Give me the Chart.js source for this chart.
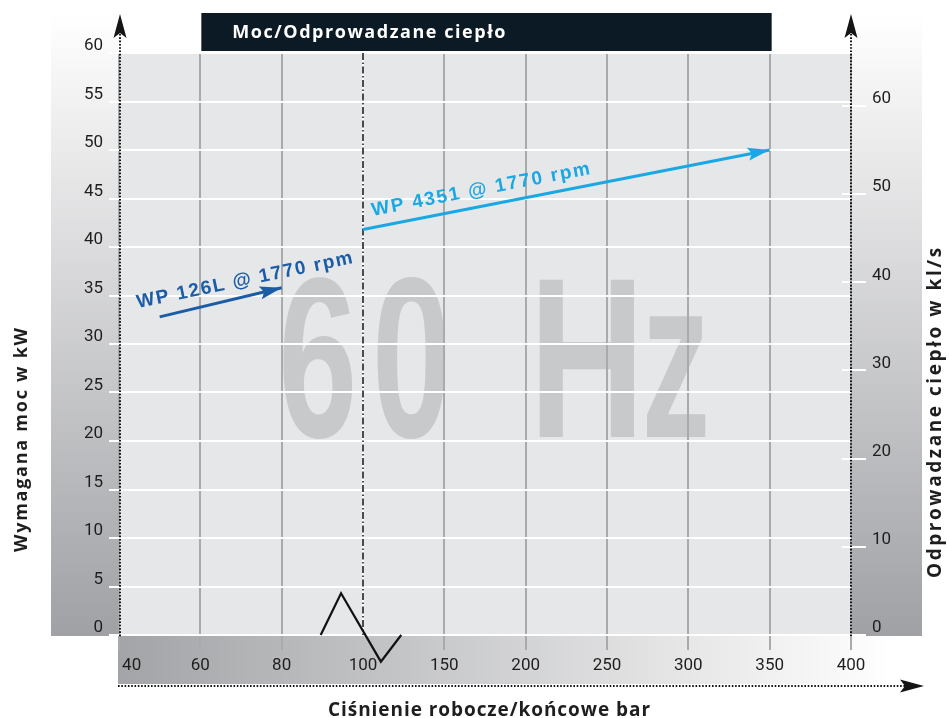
<!DOCTYPE html>
<html>
<head>
<meta charset="utf-8">
<script src="https://cdn.jsdelivr.net/npm/chart.js@4.4.1/dist/chart.umd.min.js"></script>
<style>
html,body{margin:0;padding:0;background:#ffffff;}
#wrap{width:949px;height:718px;position:relative;}
</style>
</head>
<body>
<div id="wrap"><canvas id="c" width="949" height="718"></canvas></div>
<script>
// ---------- DATA ----------
const pressureTicks = [40, 60, 80, 100, 150, 200, 250, 300, 350, 400];   // bar (broken axis)
const breakPressure = 100;
const seriesNames = ['WP 126L @ 1770 rpm', 'WP 4351 @ 1770 rpm'];
const wp126L_pressure = [50, 80];
const wp126L_power = [32.8, 35.8];
const wp4351_pressure = [100, 350];
const wp4351_power = [41.8, 50.0];
const chartTitle = 'Moc/Odprowadzane ciepło';
const xTitle = 'Ciśnienie robocze/końcowe bar';
const yTitle = 'Wymagana moc w kW';
const y2Title = 'Odprowadzane ciepło w kl/s';
const watermarkText = '60 Hz';

// ---------- HELPERS ----------
function toPos(p) { // pressure -> evenly spaced tick position
  for (let i = 0; i < pressureTicks.length - 1; i++) {
    const a = pressureTicks[i], b = pressureTicks[i + 1];
    if (p >= a && p <= b) return i + (p - a) / (b - a);
  }
  return p < pressureTicks[0] ? 0 : pressureTicks.length - 1;
}
const breakIdx = pressureTicks.indexOf(breakPressure);

const TICK_FONT = {family: 'Roboto, "Liberation Sans", sans-serif', size: 17};
const TITLE_FAMILY = '"Open Sans", "Noto Sans", sans-serif';
const LABEL_FAMILY = '"Liberation Sans Narrow", "Liberation Sans", Arial, sans-serif';
const WM_FAMILY = '"Liberation Sans", Arial, sans-serif';
const colors = ['#1a5ca6', '#19a8e4'];

// annotation anchors (pressure, power, angle deg, target length px)
const labelAnchors = [
  {p: 44.7, v: 33.7, angle: -11.8, len: 220},
  {p: 106, v: 43.2, angle: -10.9, len: 222}
];

function spacedText(ctx, text, x, y, targetWidth) {
  ctx.letterSpacing = '0px';
  const w0 = ctx.measureText(text).width;
  const sp = (targetWidth - w0) / (text.length - 1);
  ctx.letterSpacing = sp.toFixed(2) + 'px';
  ctx.fillText(text, x, y);
  ctx.letterSpacing = '0px';
}

// ---------- PLUGINS ----------
const bgPlugin = {
  id: 'bg',
  beforeDraw(chart) {
    const {ctx, chartArea: a, scales} = chart;
    const x = scales.x, y = scales.y;
    ctx.save();
    const colTop = 13;
    let g = ctx.createLinearGradient(0, colTop, 0, a.bottom + 1);
    g.addColorStop(0, '#ffffff');
    g.addColorStop(1, '#a0a1a5');
    ctx.fillStyle = g;
    ctx.fillRect(51, colTop, a.left - 51, a.bottom + 1 - colTop);
    ctx.fillRect(a.right, colTop, 922 - a.right, a.bottom + 1 - colTop);
    g = ctx.createLinearGradient(a.left, 0, 895, 0);
    g.addColorStop(0, '#a3a4a7');
    g.addColorStop(1, '#ffffff');
    ctx.fillStyle = g;
    ctx.fillRect(a.left - 1, a.bottom + 1, chart.width - a.left + 1, 48);
    ctx.fillStyle = '#e6e7e9';
    ctx.fillRect(a.left, a.top, a.right - a.left, a.bottom - a.top);

    // watermark "60 Hz"
    const chars = watermarkText.replace(' ', '').split('');
    const charPos = [2.02, 3.18, 5.17, 6.49];
    const charScale = [0.62, 0.62, 0.7, 0.6];
    const base = y.getPixelForValue(20.4), capTop = y.getPixelForValue(37.3);
    const size = (base - capTop) / 0.716;
    ctx.font = 'bold ' + size.toFixed(1) + 'px ' + WM_FAMILY;
    ctx.fillStyle = '#c8c9cb';
    ctx.textBaseline = 'alphabetic';
    ctx.textAlign = 'left';
    chars.forEach((ch, i) => {
      const m = ctx.measureText(ch);
      ctx.save();
      ctx.translate(x.getPixelForValue(charPos[i]), base);
      ctx.scale(charScale[i], 1);
      ctx.fillText(ch, m.actualBoundingBoxLeft, 0);
      ctx.restore();
    });
    ctx.restore();
  }
};

function axisArrow(ctx, tipX, tipY, dir) {
  ctx.beginPath();
  if (dir === 'up') {
    ctx.moveTo(tipX, tipY);
    ctx.lineTo(tipX + 6.5, tipY + 24);
    ctx.lineTo(tipX, tipY + 19);
    ctx.lineTo(tipX - 6.5, tipY + 24);
  } else {
    ctx.moveTo(tipX, tipY);
    ctx.lineTo(tipX - 24, tipY - 6.5);
    ctx.lineTo(tipX - 19, tipY);
    ctx.lineTo(tipX - 24, tipY + 6.5);
  }
  ctx.closePath();
  ctx.fill();
}

const overlayPlugin = {
  id: 'overlay',
  beforeDatasetsDraw(chart) {
    const {ctx, chartArea: a, scales: {x}} = chart;
    const px = x.getPixelForValue(breakIdx);
    ctx.save();
    ctx.lineWidth = 2;
    ctx.strokeStyle = '#ffffff';
    ctx.beginPath(); ctx.moveTo(px, a.top); ctx.lineTo(px, a.bottom); ctx.stroke();
    ctx.strokeStyle = '#4a4b4e';
    ctx.setLineDash([7, 2.5, 1.5, 2.5]);
    ctx.beginPath(); ctx.moveTo(px, a.top); ctx.lineTo(px, a.bottom); ctx.stroke();
    ctx.restore();
  },
  afterDatasetsDraw(chart) {
    const {ctx, scales: {x, y}} = chart;
    ctx.save();
    chart.data.datasets.forEach((ds, di) => {
      const pts = chart.getDatasetMeta(di).data;
      const p0 = pts[pts.length - 2], p1 = pts[pts.length - 1];
      const ang = Math.atan2(p1.y - p0.y, p1.x - p0.x);
      ctx.save();
      ctx.translate(p1.x, p1.y);
      ctx.rotate(ang);
      ctx.fillStyle = ds.borderColor;
      ctx.beginPath();
      ctx.moveTo(0, 0);
      ctx.lineTo(-22, -6.5);
      ctx.lineTo(-18, 0);
      ctx.lineTo(-22, 6.5);
      ctx.closePath();
      ctx.fill();
      ctx.restore();
      // label
      const an = labelAnchors[di];
      ctx.save();
      ctx.translate(x.getPixelForValue(toPos(an.p)), y.getPixelForValue(an.v));
      ctx.rotate(an.angle * Math.PI / 180);
      ctx.font = 'bold 19px ' + LABEL_FAMILY;
      ctx.fillStyle = ds.borderColor;
      ctx.textBaseline = 'alphabetic';
      ctx.textAlign = 'left';
      spacedText(ctx, ds.label, 0, 0, an.len);
      ctx.restore();
    });
    ctx.restore();
  },
  afterDraw(chart) {
    const {ctx, chartArea: a, scales: {x, y, y2}} = chart;
    ctx.save();
    // inner part of right-axis ticks
    ctx.strokeStyle = '#ffffff';
    ctx.lineWidth = 2;
    y2.ticks.forEach(t => {
      const py = Math.round(y2.getPixelForValue(t.value));
      ctx.beginPath(); ctx.moveTo(a.right - 9, py); ctx.lineTo(a.right, py); ctx.stroke();
    });

    // dotted axes
    ctx.strokeStyle = '#151515';
    ctx.fillStyle = '#151515';
    ctx.lineWidth = 2;
    ctx.setLineDash([1.6, 1.7]);
    const lx = a.left + 1, rx = a.right;
    ctx.beginPath(); ctx.moveTo(lx, 34); ctx.lineTo(lx, a.bottom + 2); ctx.stroke();
    ctx.beginPath(); ctx.moveTo(rx, 34); ctx.lineTo(rx, a.bottom + 1); ctx.stroke();
    const by = a.bottom + 51;
    ctx.beginPath(); ctx.moveTo(a.left - 1, by); ctx.lineTo(905, by); ctx.stroke();
    ctx.setLineDash([]);
    axisArrow(ctx, lx, 14, 'up');
    axisArrow(ctx, rx, 14, 'up');
    axisArrow(ctx, 924, by, 'right');

    // title box
    const bx0 = x.getPixelForValue(1) + 1, bx1 = x.getPixelForValue(8) + 2;
    ctx.fillStyle = '#0c1a25';
    ctx.fillRect(bx0, 13, bx1 - bx0, 38);
    ctx.fillStyle = '#ffffff';
    ctx.font = 'bold 18px ' + TITLE_FAMILY;
    ctx.textAlign = 'left';
    ctx.textBaseline = 'alphabetic';
    spacedText(ctx, chartTitle, bx0 + 31, 38, 273);

    // axis titles
    ctx.fillStyle = '#1e1e1e';
    ctx.font = 'bold 19px ' + TITLE_FAMILY;
    ctx.textAlign = 'left';
    ctx.textBaseline = 'alphabetic';
    spacedText(ctx, xTitle, 489 - 161, 716, 322);

    ctx.save();
    ctx.translate(27, 440);
    ctx.rotate(-Math.PI / 2);
    ctx.font = 'bold 18px ' + TITLE_FAMILY;
    spacedText(ctx, yTitle, -112, 0, 224);
    ctx.restore();

    ctx.save();
    ctx.translate(941, 413);
    ctx.rotate(-Math.PI / 2);
    ctx.font = 'bold 19px ' + TITLE_FAMILY;
    spacedText(ctx, y2Title, -165, 0, 330);
    ctx.restore();

    // axis break zigzag
    const zz = [[2.48, 0], [2.73, 4.3], [3.22, -2.75], [3.47, 0]];
    ctx.strokeStyle = '#111111';
    ctx.lineWidth = 2.2;
    ctx.lineJoin = 'miter';
    ctx.beginPath();
    zz.forEach((p, i) => {
      const px = x.getPixelForValue(p[0]), py = y.getPixelForValue(p[1]);
      if (i === 0) ctx.moveTo(px, py); else ctx.lineTo(px, py);
    });
    ctx.stroke();
    ctx.restore();
  }
};

// ---------- CHART ----------
const ctx = document.getElementById('c').getContext('2d');
new Chart(ctx, {
  type: 'line',
  data: {
    datasets: [
      {
        label: seriesNames[0],
        data: wp126L_pressure.map((p, i) => ({x: toPos(p), y: wp126L_power[i]})),
        borderColor: colors[0], backgroundColor: colors[0],
        borderWidth: 3, pointRadius: 0, fill: false, tension: 0, yAxisID: 'y', borderCapStyle: 'butt'
      },
      {
        label: seriesNames[1],
        data: wp4351_pressure.map((p, i) => ({x: toPos(p), y: wp4351_power[i]})),
        borderColor: colors[1], backgroundColor: colors[1],
        borderWidth: 3, pointRadius: 0, fill: false, tension: 0, yAxisID: 'y', borderCapStyle: 'butt'
      }
    ]
  },
  options: {
    responsive: false,
    animation: false,
    devicePixelRatio: 1,
    layout: {padding: {top: 53, left: 0, right: 0, bottom: 0}},
    plugins: {legend: {display: false}, tooltip: {enabled: false}, title: {display: false}},
    scales: {
      x: {
        type: 'linear', position: 'bottom', min: 0, max: pressureTicks.length - 1,
        afterFit: s => { s.height = 83; },
        ticks: {
          stepSize: 1, autoSkip: false, maxRotation: 0, minRotation: 0, includeBounds: false,
          color: '#1e1e1e', font: TICK_FONT, padding: 6,
          callback: v => {
            const i = Math.round(v);
            const s = String(pressureTicks[i]);
            return i === 0 ? '      ' + s : s;
          }
        },
        grid: {
          color: c => (c.index === breakIdx ? 'rgba(0,0,0,0)' : '#a9aaac'),
          lineWidth: 2, tickLength: 15, z: -2
        },
        border: {display: false}
      },
      y: {
        type: 'linear', position: 'left', min: 0, max: 60,
        afterFit: s => { s.width = 119; },
        ticks: {stepSize: 5, includeBounds: false, color: '#1e1e1e', font: TICK_FONT, padding: 6, labelOffset: -7},
        grid: {color: '#ffffff', lineWidth: 2, tickLength: 10, z: -1},
        border: {display: false}
      },
      y2: {
        type: 'linear', position: 'right', min: 0, max: 66,
        afterFit: s => { s.width = 98; },
        ticks: {stepSize: 10, includeBounds: false, color: '#1e1e1e', font: TICK_FONT, padding: 6, labelOffset: -7},
        grid: {drawOnChartArea: false, color: '#ffffff', lineWidth: 2, tickLength: 15, z: -1},
        border: {display: false}
      }
    }
  },
  plugins: [bgPlugin, overlayPlugin]
});
</script>
</body>
</html>
